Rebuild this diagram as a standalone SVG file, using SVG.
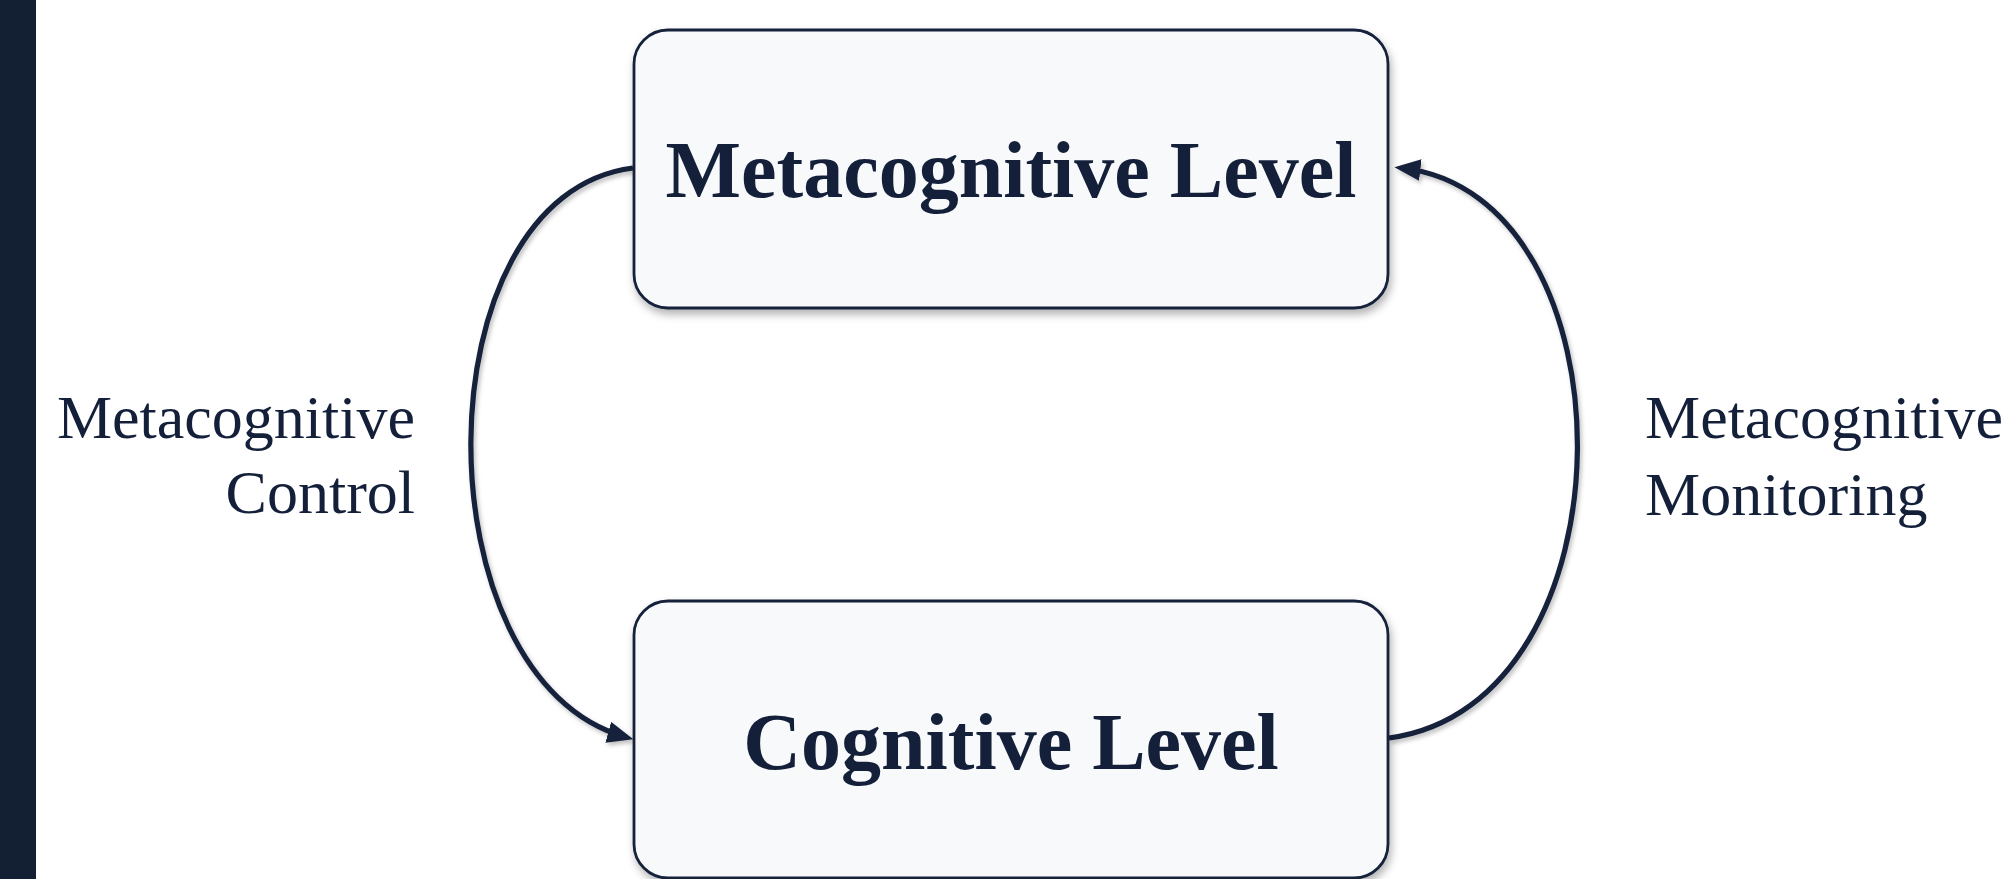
<svg xmlns="http://www.w3.org/2000/svg" width="2012" height="879" viewBox="0 0 2012 879">
  <style>
    .box { fill: #f8f9fa; stroke: #14203a; stroke-width: 2.8; filter: url(#shadow); }
    .title { font-family: "Liberation Serif", "Times New Roman", serif; font-weight: bold; font-size: 80px; fill: #14203a; text-anchor: middle; }
    .label { font-family: "Liberation Serif", "Times New Roman", serif; font-size: 62px; fill: #14203a; }
    .conn { fill: none; stroke: #14203a; stroke-width: 5.2; marker-end: url(#arrow); filter: url(#lshadow); }
  </style>
  <defs>
    <filter id="shadow" x="-10%" y="-10%" width="120%" height="130%">
      <feDropShadow dx="2" dy="5" stdDeviation="4" flood-color="#000" flood-opacity="0.3"/>
    </filter>
    <filter id="lshadow" x="-20%" y="-20%" width="140%" height="140%">
      <feDropShadow dx="2" dy="3" stdDeviation="2" flood-color="#000" flood-opacity="0.25"/>
    </filter>
    <marker id="arrow" markerUnits="userSpaceOnUse" markerWidth="26" markerHeight="22" refX="17" refY="10" orient="auto" viewBox="0 0 24 20">
      <path d="M0,0 L24,10 L0,20 z" fill="#14203a"/>
    </marker>
  </defs>

  <rect id="sidebar" x="0" y="0" width="36" height="879" fill="#131f33"/>

  <g id="connectors">
    <path id="control" class="conn" d="M633,168 C418,195 418,680 626,737.2"/>
    <path id="monitoring" class="conn" d="M1389,738 C1638,705 1638,195 1402,168"/>
  </g>

  <g id="node-metacognitive">
    <rect class="box" x="634" y="30" width="754" height="278" rx="34" ry="34"/>
    <text class="title" x="1011" y="197">Metacognitive Level</text>
  </g>

  <g id="node-cognitive">
    <rect class="box" x="634" y="601" width="754" height="277" rx="34" ry="34"/>
    <text class="title" x="1011" y="769">Cognitive Level</text>
  </g>

  <g id="label-control">
    <text class="label" x="415" y="438" text-anchor="end">Metacognitive</text>
    <text class="label" x="415" y="513" text-anchor="end">Control</text>
  </g>

  <g id="label-monitoring">
    <text class="label" x="1645" y="438">Metacognitive</text>
    <text class="label" x="1645" y="515">Monitoring</text>
  </g>
</svg>
